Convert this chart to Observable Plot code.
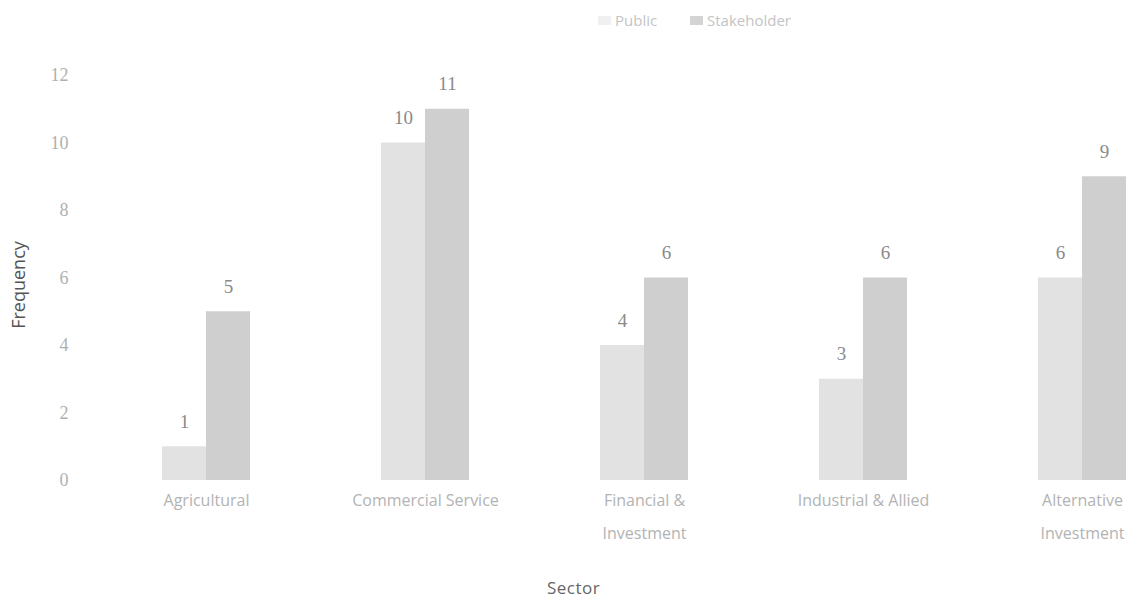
<!DOCTYPE html>
<html>
<head>
<meta charset="utf-8">
<script src="https://cdn.jsdelivr.net/npm/d3@7"></script>
<script src="https://cdn.jsdelivr.net/npm/@observablehq/plot@0.6"></script>
<style>
  html, body { margin: 0; padding: 0; background: #fff; width: 1147px; height: 600px; overflow: hidden; position: relative; }
  #legend { position: relative; height: 40px; font-family: "Open Sans", sans-serif; font-size: 15px; color: #c4c4c4; }
  .item { position: absolute; top: 10px; display: flex; align-items: center; gap: 4px; }
  .sw { width: 13px; height: 9px; display: inline-block; }
  #chart svg { display: block; }
  #caption { position: absolute; left: 0; width: 1147px; top: 576px; text-align: center;
    font-family: "Open Sans", sans-serif; font-size: 17px; color: #666; letter-spacing: 0.5px; }
  #ylabel { position: absolute; left: 18px; top: 285px; transform: translate(-50%, -50%) rotate(-90deg);
    font-family: "Open Sans", sans-serif; font-size: 18px; color: #555; white-space: nowrap; }
</style>
</head>
<body>
<div id="legend"></div>
<div id="chart"></div>
<div id="ylabel">Frequency</div>
<div id="caption">Sector</div>
<script>
const sectors = ["Agricultural", "Commercial Service", "Financial & Investment", "Industrial & Allied", "Alternative Investment"];
const sectorLabels = ["Agricultural", "Commercial Service", "Financial &\nInvestment", "Industrial & Allied", "Alternative\nInvestment"];
const series = ["Public", "Stakeholder"];
const publicValues = [1, 10, 4, 3, 6];
const stakeholderValues = [5, 11, 6, 6, 9];
const yTicks = [0, 2, 4, 6, 8, 10, 12];
const seriesColors = ["#e2e2e2", "#cfcfcf"];

const data = sectors.flatMap((s, i) => [
  {sector: s, series: series[0], value: publicValues[i]},
  {sector: s, series: series[1], value: stakeholderValues[i]}
]);

// legend
const legend = document.getElementById("legend");
const legendPos = [598, 690];
series.forEach((s, i) => {
  const it = document.createElement("div");
  it.className = "item";
  it.style.left = legendPos[i] + "px";
  const sw = document.createElement("span");
  sw.className = "sw";
  sw.style.background = i === 0 ? "#f0f0f0" : "#d4d4d4";
  const t = document.createElement("span");
  t.textContent = s;
  it.appendChild(sw); it.appendChild(t);
  legend.appendChild(it);
});

const chart = Plot.plot({
  width: 1147,
  height: 530,
  marginTop: 35,
  marginBottom: 90,
  marginLeft: 70,
  marginRight: 0,
  style: {background: "white", fontFamily: "Open Sans, sans-serif"},
  fx: {domain: sectors, range: [95, 1193], paddingInner: 0.6, paddingOuter: 0.3, label: null},
  x: {domain: series, padding: 0, axis: null},
  y: {domain: [0, 12], axis: null},
  color: {domain: series, range: seriesColors},
  marks: [
    Plot.barY(data, {fx: "sector", x: "series", y: "value", fill: "series"}),
    Plot.text(data, {fx: "sector", x: "series", y: "value", text: d => String(d.value), dy: -25,
      fontSize: 19, fill: "#8a8a8a", fontFamily: "Liberation Serif, serif"}),
    Plot.axisY({ticks: yTicks, tickSize: 0, tickPadding: 2, dx: -92, fontSize: 18, fill: "#b0b0b0",
      fontFamily: "Liberation Serif, serif", label: null}),
    Plot.axisFx({anchor: "bottom", tickSize: 0, tickPadding: 2, fontSize: 16, fill: "#b3b3b3", lineHeight: 2.05,
      tickFormat: d => sectorLabels[sectors.indexOf(d)], label: null})
  ]
});
document.getElementById("chart").appendChild(chart);
</script>
</body>
</html>
